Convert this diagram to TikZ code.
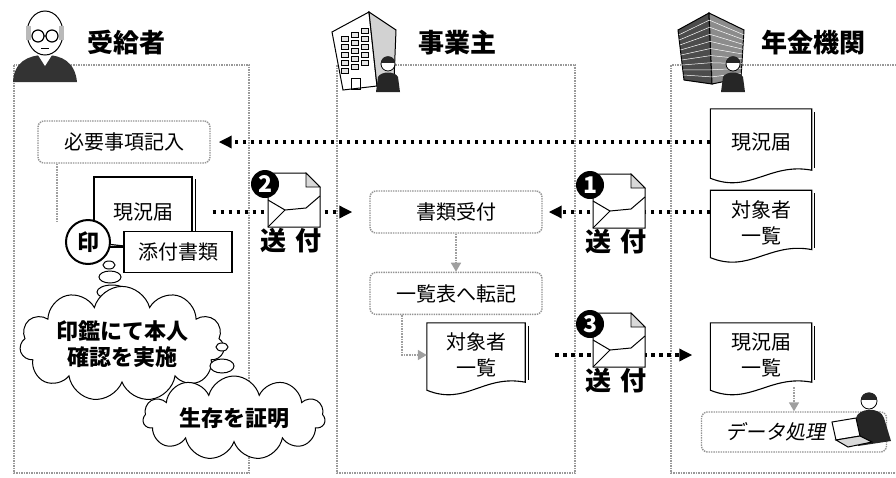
\documentclass[tikz,border=0pt]{standalone}
\usepackage{fontspec}
\setmainfont{Noto Sans CJK JP}
\newfontfamily\slantjp{Noto Sans CJK JP}[FakeSlant=0.2]
\usetikzlibrary{positioning, shapes.symbols, shapes.geometric, arrows.meta, calc}

% outline of a document sheet with a wavy lower edge and a shadow on the right
\newcommand{\docoutline}[1]{%
  \draw[docline] (#1.north west) -- (#1.north east) -- ($(#1.south east)+(0,-5)$)
    .. controls ($(#1.south east)+(-42,-13)$) and ($(#1.south west)+(39,19)$) .. ($(#1.south west)+(0,3)$) -- cycle;
  \draw[docline] ($(#1.north east)+(3,3)$) -- ($(#1.south east)+(3,-7)$);
}

\begin{document}
\begin{tikzpicture}[x=1pt, y=-1pt,
    panel/.style={draw=gray!80, line width=1.5pt, densely dotted},
    title/.style={font=\bfseries\fontsize{26}{28}\selectfont},
    task/.style={rectangle, rounded corners=6pt, draw=gray!85, densely dotted, line width=1.4pt, fill=white, minimum width=172pt, minimum height=42pt, font=\fontsize{20}{22}\selectfont},
    doc/.style={rectangle, minimum width=101pt, minimum height=66pt, align=center, font=\fontsize{20}{26}\selectfont},
    docline/.style={draw=black, line width=1.1pt},
    card/.style={rectangle, draw=black, line width=1.3pt, fill=white, minimum width=108pt, minimum height=41pt, font=\fontsize{20}{22}\selectfont},
    thought/.style={cloud, cloud puffs=11, cloud ignores aspect, draw=black, line width=1pt, fill=white, align=center, font=\bfseries\fontsize{22}{26}\selectfont},
    bubble/.style={draw=black, line width=1pt, fill=white},
    send/.style={draw, line width=3.2pt, dash pattern=on 3.5pt off 4.5pt, -{Triangle[length=13pt, width=12pt]}},
    flow/.style={draw=gray!75, line width=1.6pt, densely dotted, -{Triangle[length=9pt, width=10pt, fill=gray!75]}},
    numdot/.style={circle, fill=black, text=white, inner sep=0pt, minimum size=28pt, font=\bfseries\fontsize{23}{23}\selectfont},
    sendtext/.style={font=\bfseries\fontsize{26}{28}\selectfont},
    envelope/.pic={
      \draw[line width=1pt, fill=white] (-26,-27) -- (12,-27) -- (26,-13) -- (26,27) -- (-26,27) -- cycle;
      \draw[line width=0.8pt, fill=gray!30] (12,-27) -- (12,-13) -- (26,-13) -- cycle;
      \draw[line width=1pt] (-26,0) -- (-9,10) -- (12,8) -- (26,-4);
      \draw[line width=1pt] (-26,27) -- (-9,10);
      \node[numdot] (-num) at (-29,-16) {#1};
      \node[sendtext] (-lab) at (-3,41) {送\hspace{9pt}付};
    }
]
\useasboundingbox (0,0) rectangle (896,477);

% Panels
\draw[panel] (14,65) rectangle (249,473);
\draw[panel] (337,65) rectangle (575,473);
\draw[panel] (896,65) -- (671,65) -- (671,473) -- (896,473);

% Recipient figure
\fill[black!80] (13,82) .. controls (14,62) and (28,55) .. (45,55) .. controls (62,55) and (75,62) .. (77,82) -- cycle;
\fill[white] (38,55) -- (45,66) -- (52,55) -- cycle;
\draw[line width=1pt, fill=white] (45,33) ellipse (18 and 22);
\fill[gray!55] (26,26) rectangle (31,40);
\fill[gray!55] (59,26) rectangle (64,40);
\draw[line width=1.2pt] (38,36) circle (6) (52,36) circle (6) (44,36) -- (46,36);
\draw[line width=1pt] (41,48) -- (49,48);

% Office building
\draw[line width=1pt, fill=white] (332,32) -- (369,12) -- (377,86) -- (343,90) -- cycle;
\draw[line width=1pt, fill=gray!35] (369,12) -- (396,30) -- (394,80) -- (377,86) -- cycle;
\foreach \r in {0,...,4}
  \foreach \c in {0,1,2}
    \draw[line width=0.6pt, fill=gray!20] (341+\c*10, 36-\c*4+\r*8) rectangle ++(7,5);
\draw[line width=0.8pt] (351,78) rectangle (360,89);
\fill[black!85] (376,92) -- (378,77) .. controls (381,71) and (395,71) .. (398,77) -- (400,92) -- cycle;
\draw[line width=0.8pt, fill=white] (388,64) circle (7);
\fill[black!85] (381,63) .. controls (381,54) and (395,54) .. (395,63) -- cycle;

% Agency tower
\draw[line width=1pt, fill=black!70] (678,30) -- (709,13) -- (712,84) -- (684,80) -- cycle;
\draw[line width=1pt, fill=black!45] (709,13) -- (744,30) -- (741,78) -- (712,84) -- cycle;
\foreach \k in {1,...,9} {
  \draw[white, line width=0.5pt] ($(678,30)!\k/10!(684,80)$) -- ($(709,13)!\k/10!(712,84)$);
  \draw[white, line width=0.5pt] ($(709,13)!\k/10!(712,84)$) -- ($(744,30)!\k/10!(741,78)$);
}
\fill[black!85] (721,92) -- (723,77) .. controls (726,71) and (740,71) .. (743,77) -- (745,92) -- cycle;
\draw[line width=0.8pt, fill=white] (733,64) circle (7);
\fill[black!85] (726,63) .. controls (726,54) and (740,54) .. (740,63) -- cycle;

% Titles
\node[title] (recipient) at (126,43) {受給者};
\node[title] (employer) at (457,43) {事業主};
\node[title] (agency) at (813,43) {年金機関};

% Recipient side
\node[task] (entry) at (124,142) {必要事項記入};
\node[doc, draw, line width=1.1pt, fill=white, minimum width=98pt, minimum height=70pt] (form1) at (143,212) {現況届};
\draw[docline] ($(form1.north east)+(3,3)$) -- ($(form1.south east)+(3,0)$);
\node[card] (attach) at (178,252) {添付書類};
\node[circle, draw, line width=2pt, fill=white, minimum size=44pt, inner sep=0pt, font=\bfseries\fontsize{22}{22}\selectfont] (stamp) at (88,242) {印};
\draw[line width=1.2pt] (stamp) -- (attach);
\coordinate (stampnote) at (57,222);
\draw[flow, -] (entry.south -| stampnote) -- (stampnote);

\draw[bubble] (109,265) ellipse (6 and 4);
\draw[bubble] (110,277) ellipse (11 and 6);
\draw[bubble] (112,292) ellipse (15 and 7);
\node[thought, minimum width=185pt, minimum height=92pt] (seal) at (122,344) {印鑑にて本人\\確認を実施};
\draw[bubble] (222,347) ellipse (6 and 4);
\draw[bubble] (222,366) ellipse (12 and 7);
\node[thought, minimum width=182pt, minimum height=84pt] (alive) at (234,418) {生存を証明};

% Employer side
\node[task] (receipt) at (456,212) {書類受付};
\node[task, below=38pt of receipt] (transcribe) {一覧表へ転記};
\node[doc, minimum width=98pt, minimum height=64pt] (list2) at (476,355) {対象者\\一覧};
\docoutline{list2}

% Agency side
\node[doc] (form3) at (761,142) {現況届};
\node[doc, minimum height=64pt, below=15pt of form3] (list3) {対象者\\一覧};
\node[doc, minimum height=64pt] (glist3) at (761,355) {現況届\\一覧};
\docoutline{form3}
\docoutline{list3}
\docoutline{glist3}
\node[task, minimum width=185pt, minimum height=40pt] (process) at (794,432) {\slantjp\hspace*{-38pt}データ処理};

% Operator at the laptop
\fill[black!85] (858,446) -- (856,418) .. controls (858,408) and (880,406) .. (884,418) -- (891,441) -- cycle;
\draw[line width=0.8pt, fill=white] (869,401) circle (8);
\fill[black!85] (861,400) .. controls (861,390) and (877,390) .. (877,400) -- cycle;
\draw[line width=1pt, fill=white] (832,422) -- (856,418) -- (860,436) -- (836,440) -- cycle;
\draw[line width=1pt, fill=gray!30] (836,440) -- (860,436) -- (872,442) -- (848,447) -- cycle;

% Connections
\draw[send, shorten >=8pt] (form3.west) -- (entry.east);
\draw[send, shorten <=20pt, shorten >=17pt] (form1.east) -- (receipt.west);
\draw[send, shorten >=6pt] (list3.west |- receipt.east) -- (receipt.east);
\draw[send, shorten <=30pt, shorten >=18pt] (list2.east) -- (glist3.west);
\draw[flow] (receipt) -- (transcribe);
\draw[flow] ([xshift=-54pt]transcribe.south) |- (list2.west);
\draw[flow] (glist3.south -| process.north) -- (process.north);

% Mail
\pic (env2) at (294,200) {envelope=2};
\pic (env1) at (619,201) {envelope=1};
\pic (env3) at (619,340) {envelope=3};

\end{tikzpicture}
\end{document}
